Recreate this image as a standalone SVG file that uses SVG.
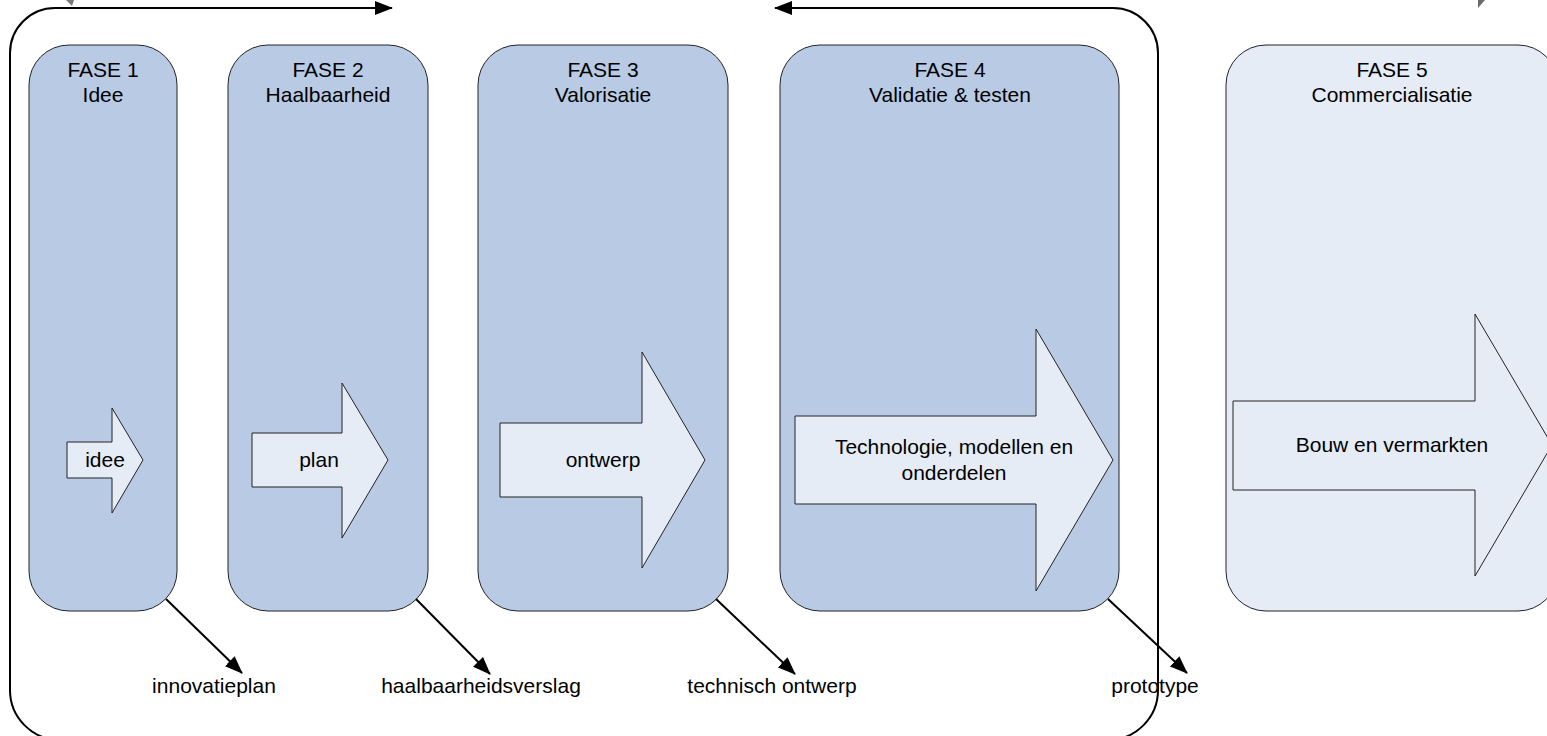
<svg xmlns="http://www.w3.org/2000/svg" width="1547" height="736" viewBox="0 0 1547 736">
<style>
.phase{fill:#B9CBE4;stroke:#222;stroke-width:1}
.phase5{fill:#E6ECF6;stroke:#222;stroke-width:1}
.barrow{fill:#E6ECF6;stroke:#222;stroke-width:1}
.t{font-family:"Liberation Sans",Arial,sans-serif;font-size:21px;fill:#000;text-anchor:middle}
.conn{fill:none;stroke:#000;stroke-width:2}
</style>
<defs>
<marker id="ah" viewBox="0 0 18 14" refX="17" refY="7" markerWidth="18" markerHeight="14" markerUnits="userSpaceOnUse" orient="auto-start-reverse">
<path d="M0,0 L18,7 L0,14 z" fill="#000"/>
</marker>
</defs>
<rect width="1547" height="736" fill="#fff"/>
<polygon points="66,0 74,0 72,6" fill="#7a7a7a"/>
<polygon points="1478,0 1485,0 1478,8" fill="#6a6a6a"/>
<g id="fase1">
<rect class="phase" x="29" y="45" width="148" height="566" rx="40"/>
<text class="t" x="103" y="77">FASE 1</text>
<text class="t" x="103" y="102">Idee</text>
<polygon class="barrow" points="67,442 112,442 112,408 143,460 112,513 112,478 67,478"/>
<text class="t" x="105" y="467">idee</text>
</g>
<g id="fase2">
<rect class="phase" x="228" y="45" width="200" height="566" rx="40"/>
<text class="t" x="328" y="77">FASE 2</text>
<text class="t" x="328" y="102">Haalbaarheid</text>
<polygon class="barrow" points="252,433 342,433 342,383 388,460 342,538 342,487 252,487"/>
<text class="t" x="319" y="467">plan</text>
</g>
<g id="fase3">
<rect class="phase" x="478" y="45" width="250" height="566" rx="40"/>
<text class="t" x="603" y="77">FASE 3</text>
<text class="t" x="603" y="102">Valorisatie</text>
<polygon class="barrow" points="500,423 642,423 642,352 705,460 642,568 642,497 500,497"/>
<text class="t" x="603" y="467">ontwerp</text>
</g>
<g id="fase4">
<rect class="phase" x="780" y="45" width="339" height="566" rx="40"/>
<text class="t" x="950" y="77">FASE 4</text>
<text class="t" x="950" y="102">Validatie &amp; testen</text>
<polygon class="barrow" points="795,416 1036,416 1036,329 1113,460 1036,591 1036,504 795,504"/>
<text class="t" x="954" y="454">Technologie, modellen en</text>
<text class="t" x="954" y="480">onderdelen</text>
</g>
<g id="fase5">
<rect class="phase5" x="1226" y="45" width="332" height="566" rx="40"/>
<text class="t" x="1392" y="77">FASE 5</text>
<text class="t" x="1392" y="102">Commercialisatie</text>
<polygon class="barrow" points="1233,401 1475,401 1475,314 1552,445 1475,576 1475,490 1233,490"/>
<text class="t" x="1392" y="452">Bouw en vermarkten</text>
</g>
<g id="connectors">
<path class="conn" d="M775,8 L1113,8 A45,45 0 0 1 1158,53 L1158,690 A50,50 0 0 1 1108,740 L60,740 A50,50 0 0 1 10,690 L10,53 A45,45 0 0 1 55,8 L392,8" marker-start="url(#ah)" marker-end="url(#ah)"/>
<line class="conn" x1="166" y1="599" x2="242" y2="673" marker-end="url(#ah)"/>
<line class="conn" x1="416" y1="599" x2="490" y2="674" marker-end="url(#ah)"/>
<line class="conn" x1="716" y1="599" x2="795" y2="674" marker-end="url(#ah)"/>
<line class="conn" x1="1108" y1="599" x2="1187" y2="673" marker-end="url(#ah)"/>
</g>
<g id="labels">
<text class="t" x="214" y="693">innovatieplan</text>
<text class="t" x="481" y="693">haalbaarheidsverslag</text>
<text class="t" x="772" y="693">technisch ontwerp</text>
<text class="t" x="1155" y="693">prototype</text>
</g>
</svg>
